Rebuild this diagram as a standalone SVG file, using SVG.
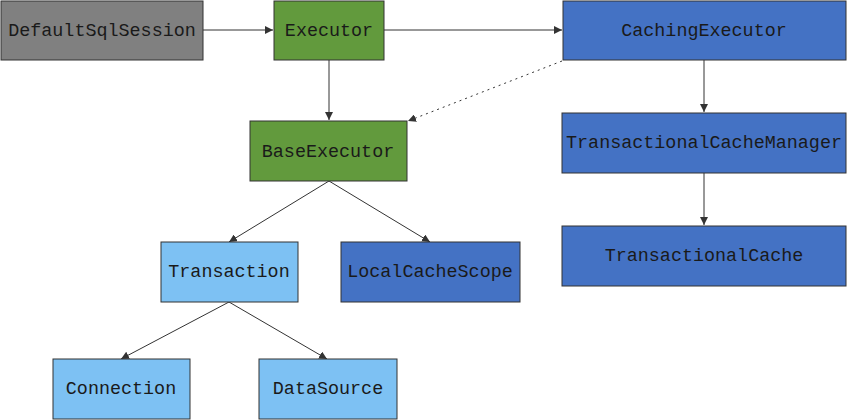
<svg xmlns="http://www.w3.org/2000/svg" width="847" height="420" viewBox="0 0 847 420">
<style>
.n{stroke:#333;stroke-width:1}
.t{font-family:"Liberation Mono","DejaVu Sans Mono",monospace;font-size:18.4px;fill:#1a1a1a;text-anchor:middle;dominant-baseline:central}
.c{stroke:#333;stroke-width:1;fill:none}
.gray{fill:#808080}.green{fill:#629A3D}.blue{fill:#4472C4}.lb{fill:#7DC1F3}
</style>
<defs>
<marker id="a" viewBox="0 0 10 10" refX="10" refY="5" markerWidth="8" markerHeight="8" markerUnits="userSpaceOnUse" orient="auto">
<path d="M0,0 L10,5 L0,10 z" fill="#333"/>
</marker>
</defs>
<rect width="847" height="420" fill="#fff"/>
<g id="connectors">
<line class="c" x1="203" y1="30" x2="273" y2="30" marker-end="url(#a)"/>
<line class="c" x1="384" y1="30" x2="562" y2="30" marker-end="url(#a)"/>
<line class="c" x1="329" y1="60" x2="329" y2="120" marker-end="url(#a)"/>
<line class="c" x1="562" y1="61" x2="408" y2="121" stroke-dasharray="2,4" marker-end="url(#a)"/>
<line class="c" x1="704" y1="60" x2="704" y2="112" marker-end="url(#a)"/>
<line class="c" x1="704" y1="173" x2="704" y2="225" marker-end="url(#a)"/>
<line class="c" x1="329" y1="181" x2="229" y2="242" marker-end="url(#a)"/>
<line class="c" x1="329" y1="181" x2="430" y2="242" marker-end="url(#a)"/>
<line class="c" x1="229" y1="302" x2="121" y2="359" marker-end="url(#a)"/>
<line class="c" x1="229" y1="302" x2="327" y2="359" marker-end="url(#a)"/>
</g>
<g id="DefaultSqlSession"><rect class="n gray" x="1" y="1" width="202" height="59"/><text class="t" x="102" y="31">DefaultSqlSession</text></g>
<g id="Executor"><rect class="n green" x="274" y="1" width="110" height="59"/><text class="t" x="329" y="31">Executor</text></g>
<g id="CachingExecutor"><rect class="n blue" x="563" y="1" width="283" height="59"/><text class="t" x="704" y="31">CachingExecutor</text></g>
<g id="BaseExecutor"><rect class="n green" x="250" y="121" width="157" height="60"/><text class="t" x="328" y="152">BaseExecutor</text></g>
<g id="TransactionalCacheManager"><rect class="n blue" x="562" y="113" width="284" height="60"/><text class="t" x="704" y="143">TransactionalCacheManager</text></g>
<g id="TransactionalCache"><rect class="n blue" x="562" y="226" width="284" height="60"/><text class="t" x="704" y="256">TransactionalCache</text></g>
<g id="Transaction"><rect class="n lb" x="161" y="242" width="137" height="60"/><text class="t" x="229" y="272">Transaction</text></g>
<g id="LocalCacheScope"><rect class="n blue" x="341" y="242" width="179" height="60"/><text class="t" x="430" y="272">LocalCacheScope</text></g>
<g id="Connection"><rect class="n lb" x="53" y="359" width="137" height="60"/><text class="t" x="121" y="389">Connection</text></g>
<g id="DataSource"><rect class="n lb" x="259" y="359" width="138" height="60"/><text class="t" x="328" y="389">DataSource</text></g>
</svg>
